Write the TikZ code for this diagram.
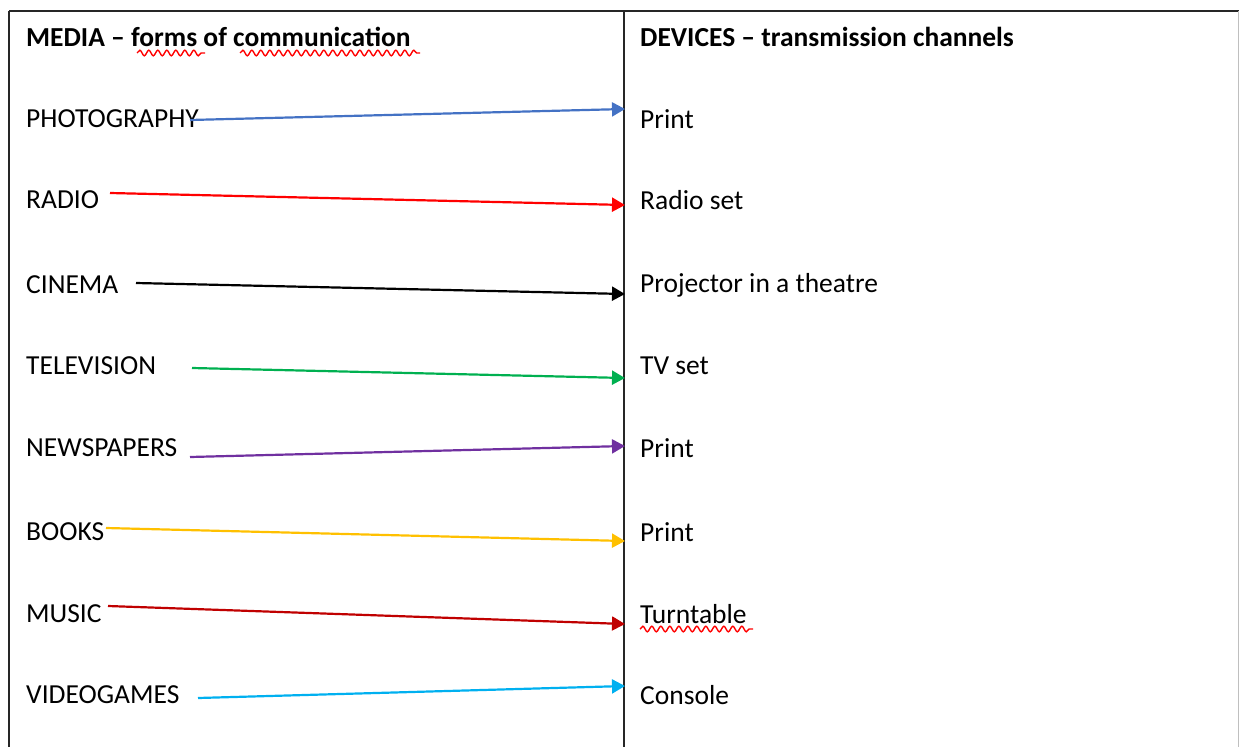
\documentclass[tikz,border=0pt]{standalone}
\usepackage{fontspec}
\setmainfont{Carlito}
\usetikzlibrary{arrows.meta,decorations.pathmorphing}
\definecolor{cblue}{HTML}{4472C4}
\definecolor{cred}{HTML}{FF0000}
\definecolor{cgreen}{HTML}{00B050}
\definecolor{cpurple}{HTML}{7030A0}
\definecolor{cgold}{HTML}{FFC000}
\definecolor{cdred}{HTML}{C00000}
\definecolor{clblue}{HTML}{00B0F0}
\tikzset{
  lab/.style={anchor=west,inner sep=0pt,font=\fontsize{27.5}{33}\selectfont},
  head/.style={lab,font=\fontsize{27.5}{33}\selectfont\bfseries},
  conn/.style={line width=2.2pt,-{Triangle[length=13pt,width=14pt]}},
  rule/.style={line width=1.8pt,black!85},
  squig/.style={red,line width=1.4pt,decorate,decoration={snake,segment length=9pt,amplitude=2.8pt}}
}
\begin{document}
\begin{tikzpicture}[x=1pt,y=-1pt]
\useasboundingbox (0,0) rectangle (1239,747);
% table rules
\draw[rule] (9,11) -- (1239,11);
\draw[rule] (9,11) -- (9,747);
\draw[rule] (624,11) -- (624,747);
\draw[line width=1pt,black!25] (1238,11) -- (1238,747);
% headers
\node[head] (hl) at (26,37) {MEDIA -- forms of communication};
\node[head] (hr) at (640,37) {DEVICES -- transmission channels};
% left labels
\node[lab] (l1) at (26,119) {PHOTOGRAPHY};
\node[lab] (l2) at (26,200) {RADIO};
\node[lab] (l3) at (26,285) {CINEMA};
\node[lab] (l4) at (26,366) {TELEVISION};
\node[lab] (l5) at (26,448) {NEWSPAPERS};
\node[lab] (l6) at (26,532) {BOOKS};
\node[lab] (l7) at (26,614) {MUSIC};
\node[lab] (l8) at (26,695) {VIDEOGAMES};
% right labels
\node[lab] (r1) at (640,119) {Print};
\node[lab] (r2) at (640,200) {Radio set};
\node[lab] (r3) at (640,285) {Projector in a theatre};
\node[lab] (r4) at (640,366) {TV set};
\node[lab] (r5) at (640,448) {Print};
\node[lab] (r6) at (640,532) {Print};
\node[lab] (r7) at (640,614) {Turntable};
\node[lab] (r8) at (640,695) {Console};
% connector endpoints
\coordinate (s1) at (190,120); \coordinate (e1) at (625,109);
\coordinate (s2) at (110,193); \coordinate (e2) at (625,205);
\coordinate (s3) at (136,283); \coordinate (e3) at (625,294);
\coordinate (s4) at (192,368); \coordinate (e4) at (625,378);
\coordinate (s5) at (190,457); \coordinate (e5) at (625,446);
\coordinate (s6) at (106,528); \coordinate (e6) at (625,541);
\coordinate (s7) at (108,606); \coordinate (e7) at (625,624);
\coordinate (s8) at (198,698); \coordinate (e8) at (625,686);
\draw[conn,cblue] (s1) -- (e1);
\draw[conn,cred] (s2) -- (e2);
\draw[conn,black] (s3) -- (e3);
\draw[conn,cgreen] (s4) -- (e4);
\draw[conn,cpurple] (s5) -- (e5);
\draw[conn,cgold] (s6) -- (e6);
\draw[conn,cdred] (s7) -- (e7);
\draw[conn,clblue] (s8) -- (e8);
% spell-check squiggles
\coordinate (q1a) at (137,53); \coordinate (q1b) at (205,53);
\coordinate (q2a) at (240,53); \coordinate (q2b) at (420,53);
\coordinate (q3a) at (640,629); \coordinate (q3b) at (753,629);
\draw[squig] (q1a) -- (q1b);
\draw[squig] (q2a) -- (q2b);
\draw[squig] (q3a) -- (q3b);
\end{tikzpicture}
\end{document}
